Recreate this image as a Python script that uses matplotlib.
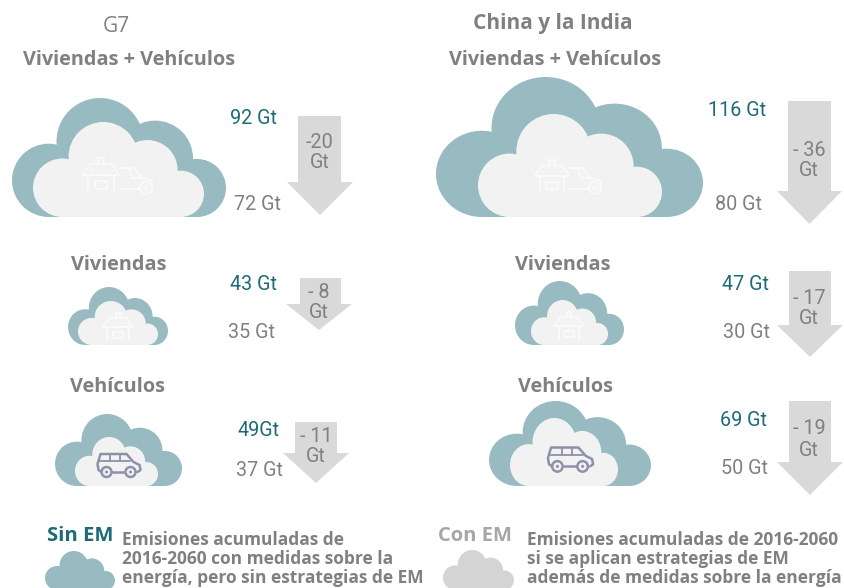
import matplotlib
matplotlib.use('Agg')
import matplotlib.pyplot as plt
from matplotlib.patches import Circle, Ellipse, Rectangle, Polygon

# values
groups = ['G7', 'China y la India']
categories = ['Viviendas + Vehículos', 'Viviendas', 'Vehículos']
before_labels = [['92 Gt', '43 Gt', '49Gt'], ['116 Gt', '47 Gt', '69 Gt']]
after_labels = [['72 Gt', '35 Gt', '37 Gt'], ['80 Gt', '30 Gt', '50 Gt']]
change_labels = [['-20', '- 8', '- 11'], ['- 36', '- 17', '- 19']]

legend_names = ['Sin EM', 'Con EM']
legend_text = [['Emisiones acumuladas de', '2016-2060 con medidas sobre la', 'energía, pero sin estrategias de EM'],
               ['Emisiones acumuladas de 2016-2060', 'si se aplican estrategias de EM', 'además de medidas sobre la energía']]

# layout in pixels of the 845x588 picture
# clouds: left, right, top, base
outer_clouds = [[(12, 226, 98, 217), (68, 168, 287, 345), (55, 182, 414, 486)],
                [(436, 703, 77, 217), (515, 624, 281, 345), (489, 651, 401, 486)]]
inner_clouds = [[(33, 204, 122, 217), (78, 158, 301, 345), (75, 158, 437, 486)],
                [(478, 662, 114, 217), (531, 608, 300, 345), (510, 618, 418, 486)]]
# shaft left, shaft right, head left, head right, top, neck, tip
arrows = [[(298, 341, 287, 353, 116, 182, 215), (300, 341, 286, 352, 278, 304, 330), (295, 337, 283, 349, 422, 453, 483)],
          [(788, 831, 777, 842, 101, 191, 224), (789, 831, 777, 843, 271, 325, 357), (789, 831, 777, 843, 401, 462, 495)]]
before_pos = [[(254, 118), (254, 284), (259, 431)], [(737, 110), (746, 284), (744, 420)]]
after_pos = [[(258, 205), (252, 332), (260, 471)], [(739, 205), (747, 332), (745, 468)]]
change_pos = [[(320, 143, 163), (319, 292, 312), (316, 436, 457)], [(809, 151, 171), (809, 298, 319), (809, 429, 450)]]
cat_pos = [[(129, 60), (119, 265), (118, 387)], [(555, 60), (563, 265), (566, 387)]]
house_pos = [[(101, 175, 1.0), (118, 327, 0.82)], [(552, 176, 0.95), (569, 326, 0.8)]]
top_car_pos = [(137, 180), (586, 180)]
van_pos = [(118.5, 464, 1.0), (570, 458, 1.05)]

teal = '#1c6b76'
cloud_teal = '#97bbc1'
gray = '#808080'
arrow_gray = '#d9d9d9'
inner_gray = '#f2f2f2'
icon_white = '#f9f9f9'
van_color = '#8f91aa'


def draw_cloud(ax, x0, x1, top, base, color, zorder=2):
    # same lobes for all clouds, scaled on width and height
    w = x1 - x0
    h = base - top
    clip = Rectangle((x0 - 5, top - 5), w + 10, h + 5, transform=ax.transData)
    lobes = [(0.172, 0.308, 0.172, 0.308), (0.411, 0.636, 0.203, 0.364), (0.669, 0.493, 0.177, 0.317), (0.864, 0.244, 0.136, 0.244)]
    for cx, cy, rx, ry in lobes:
        p = Ellipse((x0 + cx * w, base - cy * h), 2 * rx * w, 2 * ry * h, fc=color, ec='none', zorder=zorder)
        ax.add_patch(p)
        p.set_clip_path(clip)
    ax.add_patch(Rectangle((x0 + 0.172 * w, base - 0.43 * h), 0.692 * w, 0.43 * h, fc=color, ec='none', zorder=zorder))


def icon_line(ax, cx, cy, s, xs, ys, color, lw=1.5):
    ax.plot([cx + s * i for i in xs], [cy + s * j for j in ys], color=color, lw=lw,
            solid_capstyle='round', solid_joinstyle='round', zorder=4)


def draw_house(ax, cx, cy, s, color):
    icon_line(ax, cx, cy, s, [-18, -11, 11, 18, -18], [0, -11, -11, 0, 0], color)
    icon_line(ax, cx, cy, s, [-13, -13], [0, 16], color)
    icon_line(ax, cx, cy, s, [13, 13], [0, 16], color)
    icon_line(ax, cx, cy, s, [-3, -3, 3, 3], [-11, -17, -17, -11], color)
    icon_line(ax, cx, cy, s, [-6, -6, 6, 6, -6], [6, 14, 14, 6, 6], color)
    icon_line(ax, cx, cy, s, [-12, -7], [-5, -5], color, lw=1)
    icon_line(ax, cx, cy, s, [-2, 2], [-5, -5], color, lw=1)
    icon_line(ax, cx, cy, s, [7, 12], [-5, -5], color, lw=1)


def draw_top_car(ax, cx, cy, s, color):
    icon_line(ax, cx, cy, s, [-17, -3, 4, 13, 15, 15], [-12, -12, -2, 0, 2, 6], color)
    icon_line(ax, cx, cy, s, [-8, -5, 4], [-12, -2, -2], color)
    icon_line(ax, cx, cy, s, [-17, 3], [9, 9], color)
    ax.add_patch(Circle((cx + s * 9, cy + s * 8), s * 6, fc='none', ec=color, lw=1.5, zorder=4))
    ax.add_patch(Circle((cx + s * 9, cy + s * 8), s * 2, fc='none', ec=color, lw=1.2, zorder=4))


def draw_van(ax, cx, cy, s, color):
    icon_line(ax, cx, cy, s, [-17, -20, -21, -18, 8, 15, 21, 22, 19], [8, 6, 0, -10, -10, -2, 1, 6, 8], color, lw=1.8)
    icon_line(ax, cx, cy, s, [-6, 6], [8, 8], color, lw=1.8)
    icon_line(ax, cx, cy, s, [-19, 12], [-3, -3], color, lw=1.3)
    icon_line(ax, cx, cy, s, [-8, -8], [-10, -3], color, lw=1.3)
    icon_line(ax, cx, cy, s, [2, 2], [-10, -3], color, lw=1.3)
    for wx in (-12, 12):
        ax.add_patch(Circle((cx + s * wx, cy + s * 8), s * 5, fc='none', ec=color, lw=1.8, zorder=4))
        ax.add_patch(Circle((cx + s * wx, cy + s * 8), s * 1.5, fc=color, ec='none', zorder=4))


fig = plt.figure(figsize=(8.45, 5.88), dpi=100)
ax = fig.add_axes([0, 0, 1, 1])
ax.set_xlim(0, 845)
ax.set_ylim(588, 0)
ax.axis('off')

bold = dict(family='Open Sans', fontweight='bold', ha='center', va='center')
num = dict(family='Roboto', ha='center', va='center', fontsize=14.2)

ax.text(116, 26, groups[0], family='Open Sans', fontsize=15, color=gray, ha='center', va='center')
ax.text(553, 24, groups[1], color=gray, fontsize=15, **bold)

for g in range(2):
    for c in range(3):
        x, y = cat_pos[g][c]
        ax.text(x, y, categories[c], color=gray, fontsize=14.3, **bold)

        draw_cloud(ax, *outer_clouds[g][c], cloud_teal)
        draw_cloud(ax, *inner_clouds[g][c], inner_gray, zorder=3)

        sl, sr, hl, hr, top, neck, tip = arrows[g][c]
        ax.add_patch(Polygon([(sl, top), (sr, top), (sr, neck), (hr, neck), ((hl + hr) / 2, tip), (hl, neck), (sl, neck)],
                             fc=arrow_gray, ec='none', zorder=2))

        x, y = before_pos[g][c]
        ax.text(x, y, before_labels[g][c], color=teal, zorder=5, **num)
        x, y = after_pos[g][c]
        ax.text(x, y, after_labels[g][c], color=gray, zorder=5, **num)
        x, y1, y2 = change_pos[g][c]
        ax.text(x, y1, change_labels[g][c], color=gray, zorder=5, **num)
        ax.text(x, y2, 'Gt', color=gray, zorder=5, **num)

    hx, hy, hs = house_pos[g][0]
    draw_house(ax, hx, hy, hs, icon_white)
    draw_top_car(ax, top_car_pos[g][0], top_car_pos[g][1], 1.0, icon_white)
    hx, hy, hs = house_pos[g][1]
    draw_house(ax, hx, hy, hs, icon_white)
    draw_van(ax, *van_pos[g], van_color)

# legend
ax.text(80, 536, legend_names[0], color=teal, fontsize=14.6, **bold)
ax.text(475, 536, legend_names[1], color='#a6a6a6', fontsize=14.5, **bold)
draw_cloud(ax, 45, 115, 551, 590, cloud_teal)
draw_cloud(ax, 443, 514, 550, 590, '#d4d4d4')
line_y = [540, 559, 578]
for i in range(3):
    ax.text(122, line_y[i], legend_text[0][i], color=gray, family='Open Sans', fontweight='bold', fontsize=12.5, ha='left', va='center')
    ax.text(527, line_y[i], legend_text[1][i], color=gray, family='Open Sans', fontweight='bold', fontsize=12.5, ha='left', va='center')

fig.savefig('out.png', dpi=100)
